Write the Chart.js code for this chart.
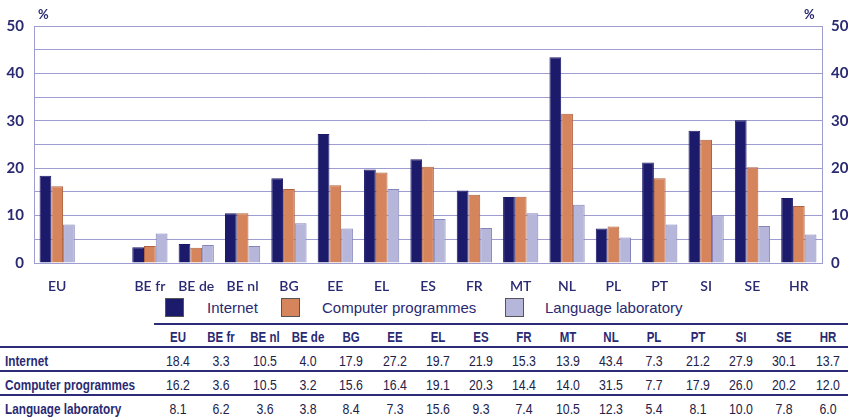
<!DOCTYPE html>
<html>
<head>
<meta charset="utf-8">
<script src="https://cdn.jsdelivr.net/npm/chart.js@4"></script>
<style>
  body { margin: 0; background: #fff; width: 848px; height: 420px; position: relative; overflow: hidden; }
  #wrap { position: absolute; left: 0; top: 0; width: 848px; height: 295px; }
  .pct { position: absolute; top: 6px; font: bold 13px Lato, sans-serif; color: #2a2a72; }
  #legend { position: absolute; top: 297px; left: 0; width: 848px; height: 22px; font: 15px "Liberation Sans", Arial, sans-serif; color: #2a2a72; }
  #legend .box { position: absolute; top: 1px; width: 19px; height: 19px; box-sizing: border-box; border: 1px solid #555; }
  #legend .txt { position: absolute; top: 2px; white-space: nowrap; }
  #tbl { position: absolute; left: 0; top: 323px; width: 848px; font-family: "Liberation Sans Narrow", "Arial Narrow", "Liberation Sans", Arial, sans-serif; color: #22224a; }
  .row { position: absolute; left: 0; height: 24px; width: 848px; }
  .cell { position: absolute; width: 44px; text-align: center; top: 4px; font-size: 15px; transform: scaleX(0.82); }
  .lab { position: absolute; left: 5px; top: 5px; font-weight: bold; font-size: 14px; color: #2a2a72; white-space: nowrap; transform: scaleX(0.84); transform-origin: left center; }
  .hdr .cell { font-weight: bold; color: #2a2a72; font-size: 14px; }
  .line { position: absolute; height: 2px; background: #2e2c78; }
</style>
</head>
<body>
<div id="wrap"><canvas id="chart"></canvas></div>
<div class="pct" style="left:38px">%</div>
<div class="pct" style="left:804px">%</div>
<div id="legend"></div>
<div id="tbl"></div>
<script>
// chart order (empty slot after EU)
const categories = ['EU', '', 'BE fr', 'BE de', 'BE nl', 'BG', 'EE', 'EL', 'ES', 'FR', 'MT', 'NL', 'PL', 'PT', 'SI', 'SE', 'HR'];
const internet = [18.4, null, 3.3, 4.0, 10.5, 17.9, 27.2, 19.7, 21.9, 15.3, 13.9, 43.4, 7.3, 21.2, 27.9, 30.1, 13.7];
const computerProgrammes = [16.2, null, 3.6, 3.2, 10.5, 15.6, 16.4, 19.1, 20.3, 14.4, 14.0, 31.5, 7.7, 17.9, 26.0, 20.2, 12.0];
const languageLab = [8.1, null, 6.2, 3.8, 3.6, 8.4, 7.3, 15.6, 9.3, 7.4, 10.5, 12.3, 5.4, 8.1, 10.0, 7.8, 6.0];
// table column order
const tableOrder = ['EU', 'BE fr', 'BE nl', 'BE de', 'BG', 'EE', 'EL', 'ES', 'FR', 'MT', 'NL', 'PL', 'PT', 'SI', 'SE', 'HR'];
const yTicks = [0, 10, 20, 30, 40, 50];

const series = [
    { label: 'Internet', data: internet, color: '#1c1a6a', border: '#1c1a6a' },
    { label: 'Computer programmes', data: computerProgrammes, color: '#d6845c', border: '#b0623f' },
    { label: 'Language laboratory', data: languageLab, color: '#b6b6da', border: '#8585bb' }
];

const gridColor = '#9d9dd2';
const textColor = '#2a2a72';
const tickFont = { family: 'Lato', size: 15, weight: 'bold' };

const ctx = document.getElementById('chart').getContext('2d');
new Chart(ctx, {
    type: 'bar',
    data: {
        labels: categories,
        datasets: series.map(s => ({
            label: s.label,
            data: s.data,
            backgroundColor: s.color,
            borderColor: s.border,
            borderWidth: 1,
            categoryPercentage: 0.76,
            barPercentage: 1.0
        }))
    },
    options: {
        responsive: true,
        maintainAspectRatio: false,
        animation: false,
        layout: { padding: { top: 26 } },
        plugins: { legend: { display: false }, tooltip: { enabled: false } },
        scales: {
            x: {
                grid: { display: false },
                border: { display: false },
                ticks: { color: textColor, font: { family: 'Lato', size: 14, weight: '600' }, padding: 7, maxRotation: 0, autoSkip: false },
                afterFit: s => { s.height = 32; }
            },
            y: {
                position: 'left',
                min: 0, max: 50,
                ticks: {
                    stepSize: 5,
                    color: textColor, font: tickFont, padding: 10,
                    callback: v => yTicks.includes(v) ? v : ''
                },
                grid: { color: gridColor, lineWidth: 1, drawTicks: false },
                border: { display: true, color: gridColor },
                afterFit: s => { s.width = 34; }
            },
            y2: {
                position: 'right',
                min: 0, max: 50,
                ticks: {
                    stepSize: 5,
                    color: textColor, font: tickFont, padding: 9,
                    callback: v => yTicks.includes(v) ? v : ''
                },
                grid: { display: false, drawTicks: false },
                border: { display: true, color: gridColor },
                afterFit: s => { s.width = 26; }
            }
        }
    }
});

// legend
const legendPos = [[165, 207], [281, 322], [505, 545]];
const legend = document.getElementById('legend');
series.forEach((s, i) => {
    legend.insertAdjacentHTML('beforeend',
        `<div class="box" style="left:${legendPos[i][0]}px;background:${s.color}"></div>` +
        `<div class="txt" style="left:${legendPos[i][1]}px">${s.label}</div>`);
});

// table
const tbl = document.getElementById('tbl');
const colLeft = i => 156 + i * 43.3;
let html = '<div class="line" style="left:154px;width:694px;top:0"></div>';
html += '<div class="row hdr" style="top:2px">' +
    tableOrder.map((c, i) => `<div class="cell" style="left:${colLeft(i)}px">${c}</div>`).join('') + '</div>';
series.forEach((s, r) => {
    const top = 25 + r * 24;
    html += `<div class="line" style="left:0;width:848px;top:${top - 2}px"></div>`;
    html += `<div class="row" style="top:${top}px"><div class="lab">${s.label}</div>` +
        tableOrder.map((c, i) => {
            const v = s.data[categories.indexOf(c)];
            return `<div class="cell" style="left:${colLeft(i)}px">${v.toFixed(1)}</div>`;
        }).join('') + '</div>';
});
tbl.innerHTML = html;
</script>
</body>
</html>
